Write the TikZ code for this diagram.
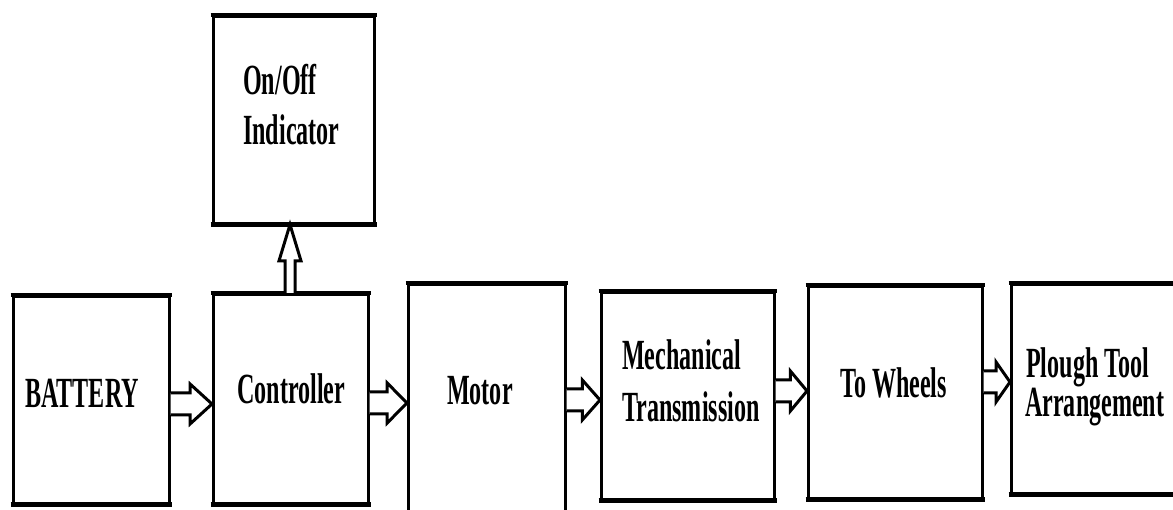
\documentclass[tikz,border=0pt]{standalone}
\usepackage{fontspec}
\setmainfont{Liberation Serif}
\usetikzlibrary{calc}

% condensed bold lettering used inside the blocks
\newcommand\squeeze[1]{\scalebox{0.56}[1]{#1}}

\tikzset{
  box/.style={draw, line width=2.6pt, inner sep=0pt, anchor=north west},
  rim/.style={line width=4.6pt, shorten <=-1.3pt, shorten >=-1.3pt},
  txt/.style={font=\bfseries\fontsize{43}{43}\selectfont, inner sep=0pt, anchor=base west},
  barrow/.style={draw, fill=white, line width=3pt, line join=miter},
}

% #1 name, #2 left, #3 top, #4 right, #5 bottom (pt, y measured downwards)
\newcommand\blockbox[5]{%
  \node[box, minimum width={(#4-#2)*1pt}, minimum height={(#5-#3)*1pt}] (#1) at ({#2*1pt},{-#3*1pt}) {};
  \draw[rim] (#1.north west) -- (#1.north east);
  \draw[rim] (#1.south west) -- (#1.south east);
}

% hollow block arrow from #1 (east side) to #2 (west side) at height #3
\newcommand\harrow[3]{%
  \draw[barrow] let \p1=(#1.east), \p2=(#2.west), \n1={\x1+0.47*(\x2-\x1)} in
    (\x1,{(-#3+11)*1pt}) -- ({\n1*1pt},{(-#3+11)*1pt}) -- ({\n1*1pt},{(-#3+20)*1pt})
    -- (\x2,{-#3*1pt}) -- ({\n1*1pt},{(-#3-20)*1pt}) -- ({\n1*1pt},{(-#3-11)*1pt})
    -- (\x1,{(-#3-11)*1pt});
}

% hollow block arrow upwards from #1 (north side) to #2 (south side) at abscissa #3
\newcommand\varrow[3]{%
  \draw[barrow] let \p1=(#1.north), \p2=(#2.south), \n1={\y1+0.47*(\y2-\y1)} in
    ({(#3-5)*1pt},\y1) -- ({(#3-5)*1pt},{\n1*1pt}) -- ({(#3-11)*1pt},{\n1*1pt})
    -- ({#3*1pt},\y2) -- ({(#3+11)*1pt},{\n1*1pt}) -- ({(#3+5)*1pt},{\n1*1pt})
    -- ({(#3+5)*1pt},\y1);
}

\begin{document}
\begin{tikzpicture}[x=1pt,y=1pt]
  \path[use as bounding box] (0,0) rectangle (1173,-510);
  \fill[white] (0,0) rectangle (1173,-510);
  \clip (0,0) rectangle (1173,-510);

  % blocks
  \blockbox{bat}{12}{295}{168}{502}
  \blockbox{ctl}{212}{293}{367}{502}
  \blockbox{ind}{212}{15}{373}{222}
  \blockbox{mot}{407}{283}{564}{518}
  \blockbox{mec}{600}{291}{773}{498}
  \blockbox{whl}{807}{285}{981}{497}
  \blockbox{plo}{1010}{283}{1195}{492}

  % block captions
  \node[txt] (batT)  at (25,-408)   {\squeeze{BATTERY}};
  \node[txt] (ctlT)  at (237,-404)  {\squeeze{Controller}};
  \node[txt] (indT1) at (243,-95)   {\squeeze{On/Off}};
  \node[txt] (indT2) at (243,-145)  {\squeeze{Indicator}};
  \node[txt] (motT)  at (447,-405)  {\squeeze{Motor}};
  \node[txt] (mecT1) at (622,-370)  {\squeeze{Mechanical}};
  \node[txt] (mecT2) at (622,-422)  {\squeeze{Transmission}};
  \node[txt] (whlT)  at (840,-398)  {\squeeze{To Wheels}};
  \node[txt] (ploT1) at (1026,-378) {\squeeze{Plough Tool}};
  \node[txt] (ploT2) at (1025,-417) {\squeeze{Arrangement}};

  % signal / power flow
  \harrow{bat}{ctl}{404}
  \harrow{ctl}{mot}{403}
  \harrow{mot}{mec}{400}
  \harrow{mec}{whl}{391}
  \harrow{whl}{plo}{382}
  \varrow{ctl}{ind}{290}
\end{tikzpicture}
\end{document}
